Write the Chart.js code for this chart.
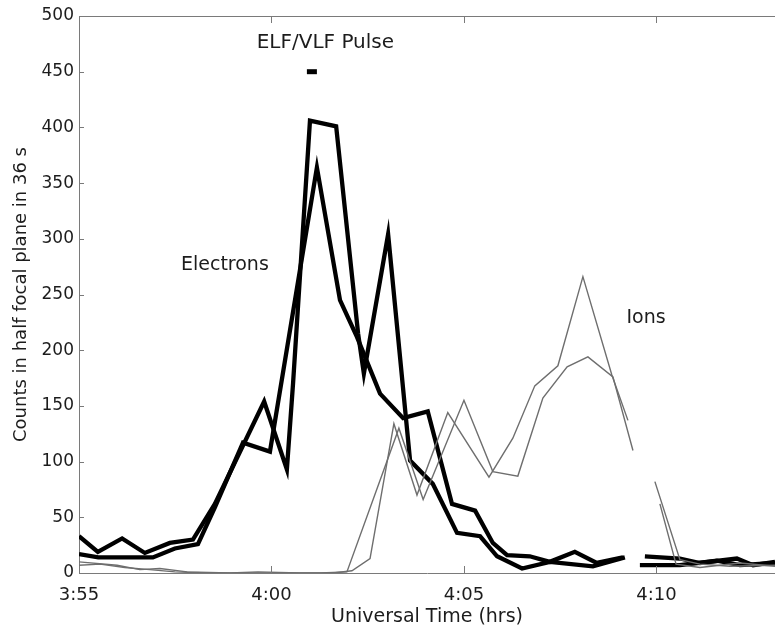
<!DOCTYPE html>
<html><head><meta charset="utf-8">
<script src="https://cdn.jsdelivr.net/npm/chart.js@4.4.0/dist/chart.umd.min.js"></script>
<style>html,body{margin:0;padding:0;background:#fff}#wrap{width:775px;height:628px}</style>
</head><body><div id="wrap"><canvas id="c" width="775" height="628"></canvas></div>
<script>
// Time in minutes after 3:55 UT
const xTickMinutes = [0, 5, 10, 15];
const xTickLabels = ['3:55', '4:00', '4:05', '4:10'];
const yTicks = [0, 50, 100, 150, 200, 250, 300, 350, 400, 450, 500];

// Electrons, detector A (thick, starts wiggly)
const elecA_t = [0, 0.49, 1.12, 1.71, 2.36, 2.96, 3.53, 4.81, 5.40, 5.56, 6.00, 6.68, 7.25, 7.40, 8.03, 8.60, 9.19, 9.82, 10.42, 10.86, 11.51, 12.23, 13.35, 14.18, 14.40, 14.70, 15.61, 16.13, 17.09, 17.51, 18.08];
const elecA   = [33, 19, 31, 18, 27, 30, 62, 154, 93, 170, 406, 401, 215, 179, 304, 101, 80, 36, 33, 15, 4, 10, 6, 14, null, 15, 13, 9, 13, 7, 10];
// Electrons, detector B (thick, smoother start)
const elecB_t = [0, 0.50, 1.92, 2.49, 3.09, 3.53, 4.26, 4.96, 6.18, 6.78, 7.22, 7.82, 8.42, 9.06, 9.69, 10.29, 10.75, 11.12, 11.71, 12.23, 12.88, 13.45, 14.13, 14.35, 14.57, 15.61, 16.57, 17.17, 18.08];
const elecB   = [17, 14, 14, 22, 26, 59, 117, 109, 364, 245, 212, 161, 139, 145, 62, 56, 27, 16, 15, 10, 19, 9, 14, null, 7, 7, 11, 7, 9];
// Ions, detector C (thin, peak ~265)
const ionC_t = [0, 0.99, 1.58, 2.10, 2.81, 3.92, 4.65, 5.74, 6.60, 7.09, 7.56, 8.18, 8.78, 9.58, 10.65, 11.27, 11.84, 12.44, 13.09, 13.84, 14.26, 14.60, 14.96, 15.61, 16.13, 16.91, 18.08];
const ionC   = [10, 7, 3, 4, 1, 0, 1, 0, 0, 2, 13, 134, 70, 144, 86, 121, 168, 186, 266, 178, 137, null, 82, 12, 8, 6, 7];
// Ions, detector D (thin, peak ~194)
const ionD_t = [0, 0.55, 1.19, 1.84, 2.49, 3.40, 4.70, 6.26, 6.96, 8.31, 8.94, 10.00, 10.75, 11.40, 12.05, 12.68, 13.22, 13.87, 14.39, 14.70, 15.09, 15.51, 16.13, 17.17, 18.08];
const ionD   = [7, 8, 5, 3, 1, 0, 0, 0, 1, 130, 66, 155, 91, 87, 157, 185, 194, 176, 110, null, 62, 8, 5, 9, 6];
// ELF/VLF pulse interval (minutes) and the level it is marked at
const pulseTimes = [5.92, 6.18];
const pulseLevel = [450, 450];

const annotations = [
  {text: 'ELF/VLF Pulse', t: 6.40, v: 476, size: 20},
  {text: 'Electrons', t: 3.79, v: 276, size: 19},
  {text: 'Ions', t: 14.73, v: 229, size: 19}
];

const zip = (t, v) => t.map((x, i) => ({x, y: v[i]}));
const FONT = 'DejaVu Sans';
const axisColor = '#7a7a7a';
const textColor = '#1c1c1c';

const framePlugin = {
  id: 'frame',
  afterDraw(chart) {
    const {ctx, chartArea: a, scales: {x, y}} = chart;
    ctx.save();
    ctx.strokeStyle = axisColor;
    ctx.lineWidth = 1;
    ctx.beginPath();
    ctx.moveTo(a.left, a.top + 0.5); ctx.lineTo(a.right, a.top + 0.5);
    xTickMinutes.forEach(m => {
      const px = Math.round(x.getPixelForValue(m)) + 0.5;
      ctx.moveTo(px, a.bottom); ctx.lineTo(px, a.bottom - 7);
      ctx.moveTo(px, a.top); ctx.lineTo(px, a.top + 7);
    });
    yTicks.forEach(v => {
      const py = Math.round(y.getPixelForValue(v)) + 0.5;
      ctx.moveTo(a.left, py); ctx.lineTo(a.left + 5, py);
    });
    ctx.stroke();
    ctx.fillStyle = textColor;
    ctx.textAlign = 'center';
    ctx.textBaseline = 'middle';
    annotations.forEach(n => {
      ctx.font = n.size + 'px "' + FONT + '"';
      ctx.fillText(n.text, x.getPixelForValue(n.t), y.getPixelForValue(n.v));
    });
    ctx.restore();
  }
};

new Chart(document.getElementById('c'), {
  type: 'line',
  data: {
    datasets: [
      {label: 'Ions C', data: zip(ionC_t, ionC), borderColor: '#6e6e6e', borderWidth: 1.4},
      {label: 'Ions D', data: zip(ionD_t, ionD), borderColor: '#6e6e6e', borderWidth: 1.4},
      {label: 'Electrons A', data: zip(elecA_t, elecA), borderColor: '#000', borderWidth: 4.3},
      {label: 'Electrons B', data: zip(elecB_t, elecB), borderColor: '#000', borderWidth: 4.3},
      {label: 'ELF/VLF Pulse', data: zip(pulseTimes, pulseLevel), borderColor: '#000', borderWidth: 5, borderCapStyle: 'butt'}
    ]
  },
  options: {
    responsive: false,
    animation: false,
    devicePixelRatio: 1,
    layout: {padding: {top: 16, right: 0, left: 0, bottom: 0}},
    elements: {
      point: {radius: 0},
      line: {tension: 0, borderJoinStyle: 'miter', fill: false}
    },
    plugins: {legend: {display: false}, tooltip: {enabled: false}},
    scales: {
      x: {
        type: 'linear', min: 0, max: 18.08,
        afterFit: s => { s.height = 55; },
        afterBuildTicks: s => { s.ticks = xTickMinutes.map(v => ({value: v})); },
        ticks: {
          includeBounds: false, autoSkip: false, maxRotation: 0, padding: 12,
          color: textColor, font: {family: FONT, size: 18},
          callback: v => xTickLabels[xTickMinutes.indexOf(v)]
        },
        grid: {drawOnChartArea: false, drawTicks: false},
        border: {display: true, color: axisColor, width: 1},
        title: {display: true, text: 'Universal Time (hrs)', color: textColor,
                font: {family: FONT, size: 19}, padding: {top: 0, bottom: 0}}
      },
      y: {
        type: 'linear', min: 0, max: 500,
        afterFit: s => { s.width = 79; },
        afterBuildTicks: s => { s.ticks = yTicks.map(v => ({value: v})); },
        ticks: {padding: 5, color: textColor, font: {family: FONT, size: 17}},
        grid: {drawOnChartArea: false, drawTicks: false},
        border: {display: true, color: axisColor, width: 1},
        title: {display: true, text: 'Counts in half focal plane in 36 s', color: textColor,
                font: {family: FONT, size: 18}, padding: {top: 11, bottom: 0}}
      }
    }
  },
  plugins: [framePlugin]
});
</script>
</body></html>
